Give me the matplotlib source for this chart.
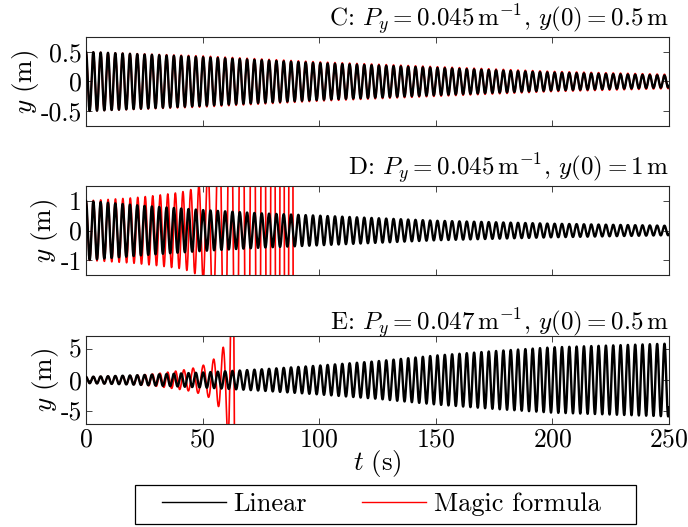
import numpy as np
import matplotlib

matplotlib.use("Agg")

import matplotlib.pyplot as plt
from matplotlib.lines import Line2D
from matplotlib.patches import Rectangle

plt.rcParams["font.family"] = "serif"
plt.rcParams["font.serif"] = ["cmr10", "DejaVu Serif"]
plt.rcParams["mathtext.fontset"] = "cm"
plt.rcParams["axes.unicode_minus"] = False
plt.rcParams["axes.formatter.use_mathtext"] = True

# envelope / local period knots (amplitude in m, period in s)
# case C
c_lin_t = [0, 50, 100, 150, 200, 250]
c_lin_amp = [0.5, 0.41, 0.31, 0.23, 0.15, 0.1]
c_mf_t = [0, 50, 100, 150, 200, 250]
c_mf_amp = [0.5, 0.43, 0.33, 0.25, 0.17, 0.12]

# case D
d_lin_t = [0, 25, 50, 75, 100, 150, 200, 250]
d_lin_amp = [1.0, 0.83, 0.69, 0.58, 0.5, 0.33, 0.23, 0.16]
d_mf_t = [0, 10, 20, 30, 40, 45, 50, 55, 60, 70, 80, 90.5]
d_mf_amp = [1.0, 1.05, 1.1, 1.18, 1.28, 1.38, 1.6, 3, 6, 12, 20, 30]
d_mf_per_t = [0, 40, 50, 55, 70, 80, 90.5]
d_mf_per = [3.14, 3.25, 3.6, 5.0, 4.8, 4.0, 3.6]

# case E
e_lin_t = [0, 25, 50, 75, 100, 125, 150, 175, 200, 225, 250]
e_lin_amp = [0.5, 0.8, 1.2, 1.7, 2.3, 3.0, 3.9, 4.6, 5.2, 5.5, 5.8]
e_mf_t = [0, 20, 30, 40, 45, 50, 54, 57, 59.8, 61.5, 63.8]
e_mf_amp = [0.5, 0.7, 1.0, 1.5, 1.8, 2.3, 3.0, 4.3, 5.7, 12, 40]
e_mf_per_t = [0, 30, 40, 50, 58, 63.8]
e_mf_per = [3.14, 3.2, 3.5, 4.6, 4.0, 3.6]

lin_period = 3.14

titles = [
    r"C: $P_y = 0.045\,\mathrm{m}^{-1}$, $y(0) = 0.5\,\mathrm{m}$",
    r"D: $P_y = 0.045\,\mathrm{m}^{-1}$, $y(0) = 1\,\mathrm{m}$",
    r"E: $P_y = 0.047\,\mathrm{m}^{-1}$, $y(0) = 0.5\,\mathrm{m}$",
]
ylims = [0.75, 1.5, 7]
yticks = [[-0.5, 0, 0.5], [-1, 0, 1], [-5, 0, 5]]
ytick_labels = [["-0.5", "0", "0.5"], ["-1", "0", "1"], ["-5", "0", "5"]]
xticks = [0, 50, 100, 150, 200, 250]


def oscillation(t_end, knot_t, amp, per_t=None, per=None):
    t = np.arange(0, t_end, 0.01)
    a = np.interp(t, knot_t, amp)
    if per is None:
        p = np.full_like(t, lin_period)
    else:
        p = np.interp(t, per_t, per)
    phase = np.concatenate([[0], np.cumsum(2 * np.pi / p[:-1] * 0.01)])
    return t, a * np.cos(phase)


series = [
    (oscillation(250, c_lin_t, c_lin_amp), oscillation(250, c_mf_t, c_mf_amp)),
    (
        oscillation(250, d_lin_t, d_lin_amp),
        oscillation(90.5, d_mf_t, d_mf_amp, d_mf_per_t, d_mf_per),
    ),
    (
        oscillation(250, e_lin_t, e_lin_amp),
        oscillation(63.8, e_mf_t, e_mf_amp, e_mf_per_t, e_mf_per),
    ),
]

fig = plt.figure(figsize=(6.88, 5.27), dpi=100)
W, H = 688, 527
boxes = [(37, 126), (186, 275), (336, 424)]

for i, (top, bot) in enumerate(boxes):
    ax = fig.add_axes([86 / W, 1 - bot / H, 583 / W, (bot - top) / H])
    (tl, yl), (tm, ym) = series[i]
    ax.plot(tm, ym, color="red", lw=1.2, zorder=2)
    ax.plot(tl, yl, color="black", lw=1.7, zorder=3)
    ax.set_xlim(0, 250)
    ax.set_ylim(-ylims[i], ylims[i])
    ax.set_yticks(yticks[i])
    ax.set_yticklabels(ytick_labels[i])
    ax.set_xticks(xticks)
    ax.tick_params(direction="in", top=True, right=True, length=4, width=0.6,
                   labelsize=18.5, color="#262626", pad=3)
    for s in ax.spines.values():
        s.set_linewidth(0.8)
        s.set_color("#262626")
    ax.set_ylabel(r"$y\ \mathrm{(m)}$", fontsize=19.5, labelpad=0)
    ax.set_title(titles[i], loc="right", fontsize=18, pad=4)
    if i < 2:
        ax.set_xticklabels([])
    else:
        ax.set_xlabel(r"$t\ \mathrm{(s)}$", fontsize=19.5, labelpad=-3)

# legend frame drawn separately to match the wider box of the original
fig.patches.append(Rectangle((135 / W, 1 - 524 / H), 501 / W, 39 / H,
                             transform=fig.transFigure, fill=False,
                             edgecolor="black", lw=0.9))
handles = [
    Line2D([], [], color="black", lw=1),
    Line2D([], [], color="red", lw=1),
]
fig.legend(handles, ["Linear", "Magic formula"], ncol=2, loc="center left",
           bbox_to_anchor=(157 / W, 1 - 504.5 / H), fontsize=19, frameon=False,
           handlelength=2.4, handletextpad=0.3, columnspacing=2.1,
           borderpad=0.2, borderaxespad=0)

fig.savefig("out.png", dpi=100)
